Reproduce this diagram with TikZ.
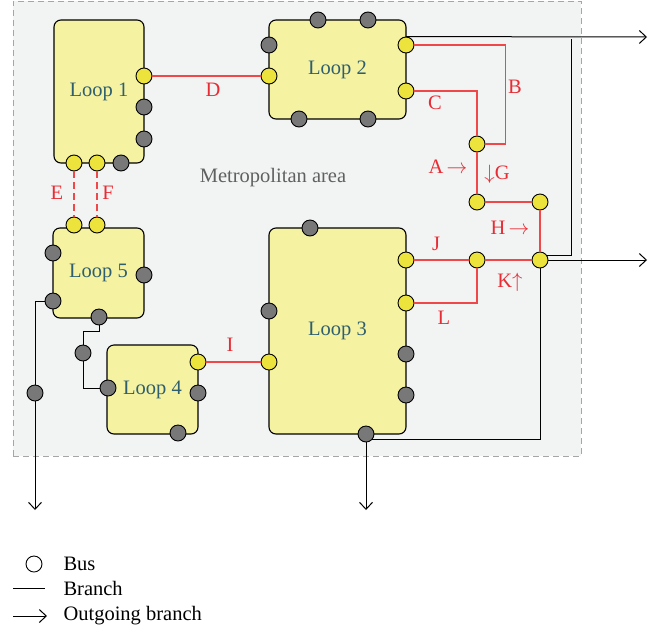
\documentclass[tikz,border=0pt]{standalone}
\usepackage{fontspec}
\setmainfont{Liberation Serif}
\usepackage{tikz}
\usetikzlibrary{arrows.meta,positioning}

\begin{document}
\begin{tikzpicture}[
  x=1pt, y=-1pt,
  font=\fontsize{20.5}{24}\selectfont,
  >={Straight Barb[length=7pt,width=13pt]},
  loopbox/.style={draw, rounded corners=7pt, fill=cloop, line width=1.1pt, text=cteal, inner sep=0pt},
  bus/.style={draw, circle, minimum size=16pt, inner sep=0pt, line width=0.9pt},
  ybus/.style={bus, fill=cyel},
  gbus/.style={bus, fill=cgray},
  redline/.style={draw=cred, line width=1.1pt},
  branch/.style={draw=black, line width=1.0pt},
  lbl/.style={text=credt, inner sep=0pt}
]

\definecolor{cbg}{RGB}{242,243,243}
\definecolor{cloop}{RGB}{245,242,162}
\definecolor{cyel}{RGB}{236,228,60}
\definecolor{cgray}{RGB}{120,120,120}
\definecolor{cred}{RGB}{240,72,72}
\definecolor{credt}{RGB}{232,44,52}
\definecolor{cteal}{RGB}{47,95,111}

\useasboundingbox (0,0) rectangle (660,635);

% metropolitan area
\node[draw=gray!70, dash pattern=on 6pt off 4pt, line width=1pt, fill=cbg,
      minimum width=568pt, minimum height=455pt, inner sep=0pt] (metro) at (297,228.5) {};
\node[text=gray!75!black] (metrolbl) at (273,178) {Metropolitan area};

% loops
\node[loopbox, minimum width=90pt, minimum height=143pt] (l1) at (99,91.5) {Loop 1};
\node[loopbox, minimum width=137pt, minimum height=99pt] (l2) at (337.5,69.5) {Loop 2};
\node[loopbox, minimum width=137pt, minimum height=206pt] (l3) at (337.5,331) {Loop 3};
\node[loopbox, minimum width=91pt, minimum height=89pt] (l4) at (152.5,389.5) {Loop 4};
\node[loopbox, minimum width=91pt, minimum height=90pt] (l5) at (98.5,273) {Loop 5};

% loop 1 buses
\node[ybus] (l1d) at (144,76) {};
\node[gbus] (l1a) at (144,107) {};
\node[gbus] (l1b) at (144,139) {};
\node[ybus] (l1e) at (74,163) {};
\node[ybus] (l1f) at (97,163) {};
\node[gbus] (l1c) at (121,163) {};

% loop 2 buses
\node[gbus] (l2a) at (318,20) {};
\node[gbus] (l2b) at (368,20) {};
\node[gbus] (l2c) at (269,45) {};
\node[ybus] (l2d) at (269,76) {};
\node[ybus] (l2e) at (406,45) {};
\node[ybus] (l2f) at (406,91) {};
\node[gbus] (l2g) at (299,119) {};
\node[gbus] (l2h) at (368,119) {};

% loop 3 buses
\node[gbus] (l3a) at (310,228) {};
\node[gbus] (l3b) at (269,311) {};
\node[ybus] (l3i) at (269,362) {};
\node[ybus] (l3j) at (406,260) {};
\node[ybus] (l3l) at (406,303) {};
\node[gbus] (l3c) at (406,354) {};
\node[gbus] (l3d) at (406,395) {};
\node[gbus] (l3e) at (366,434) {};

% loop 4 buses
\node[ybus] (l4i) at (198,362) {};
\node[gbus] (l4a) at (198,393) {};
\node[gbus] (l4b) at (108,388) {};
\node[gbus] (l4c) at (178,433) {};

% loop 5 buses
\node[ybus] (l5e) at (74,225) {};
\node[ybus] (l5f) at (97,225) {};
\node[gbus] (l5a) at (53,253) {};
\node[gbus] (l5b) at (53,301) {};
\node[gbus] (l5c) at (144,275) {};
\node[gbus] (l5d) at (99,317) {};

% free buses and junctions
\node[gbus] (x1) at (83,353) {};
\node[gbus] (x2) at (35,393) {};
\node[ybus] (ja) at (477,144) {};
\node[ybus] (jg) at (477,202) {};
\node[ybus] (jh) at (540,202) {};
\node[ybus] (jj) at (477,260) {};
\node[ybus] (jk) at (540,260) {};

\coordinate (tap) at (571,39);
\coordinate (out1) at (35,510);
\coordinate (out2) at (647,37);
\coordinate (out3) at (647,260);
\coordinate (out4) at (366,510);

% red links
\draw[redline] (l1d) -- (l2d);
\draw[redline] (l4i) -- (l3i);
\draw[redline, dash pattern=on 7pt off 4pt] (l1e) -- (l5e);
\draw[redline, dash pattern=on 7pt off 4pt] (l1f) -- (l5f);
\draw[redline] (l2e.east) -- ++(91,0) |- (ja.east);
\draw[redline] (l2f.east) -| (ja.north);
\draw[redline] (ja) -- (jg);
\draw[redline] (jg) -- (jh);
\draw[redline] (jh) -- (jk);
\draw[redline] (l3j) -- (jj);
\draw[redline] (jj) -- (jk);
\draw[redline] (l3l.east) -| (jj.south);

% black branches
\draw[branch, ->] (l2e.north) -- (out2);
\draw[branch] (jk.30) -| (tap);
\draw[branch, ->] (jk.east) -- (out3);
\draw[branch] (jk.south) |- (l3e.south east);
\draw[branch, ->] (l3e.south) -- (out4);
\draw[branch] (l5d.south) -- ++(0,6) -| (x1.north);
\draw[branch] (x1.south) |- (l4b.west);
\draw[branch] (l5b.west) -| (x2.north);
\draw[branch, ->] (x2.south) -- (out1);

% link labels
\node[lbl] (lD) at (213,90) {D};
\node[lbl] (lE) at (57,193) {E};
\node[lbl] (lF) at (108,193) {F};
\node[lbl] (lI) at (230,345) {I};
\node[lbl] (lB) at (515,87) {B};
\node[lbl] (lC) at (435,103) {C};
\node[lbl] (lA) at (448,167) {A\,$\rightarrow$};
\node[lbl] (lG) at (497,174) {$\downarrow$G};
\node[lbl] (lH) at (510,228) {H\,$\rightarrow$};
\node[lbl] (lJ) at (436,244) {J};
\node[lbl] (lK) at (510,282) {K$\uparrow$};
\node[lbl] (lL) at (444,318) {L};

% legend
\node[bus, fill=white] (legbus) at (34,564) {};
\node[anchor=west] (legbustxt) at (60,564) {Bus};
\coordinate (lega) at (13,588);
\coordinate (legb) at (45,588);
\node[anchor=west] (legbrtxt) at (60,588) {Branch};
\draw[branch] (lega) -- (legb);
\coordinate (legc) at (13,616);
\coordinate (legd) at (47,616);
\node[anchor=west] (legouttxt) at (60,616) {Outgoing branch};
\draw[branch, ->] (legc) -- (legd);

\end{tikzpicture}
\end{document}
